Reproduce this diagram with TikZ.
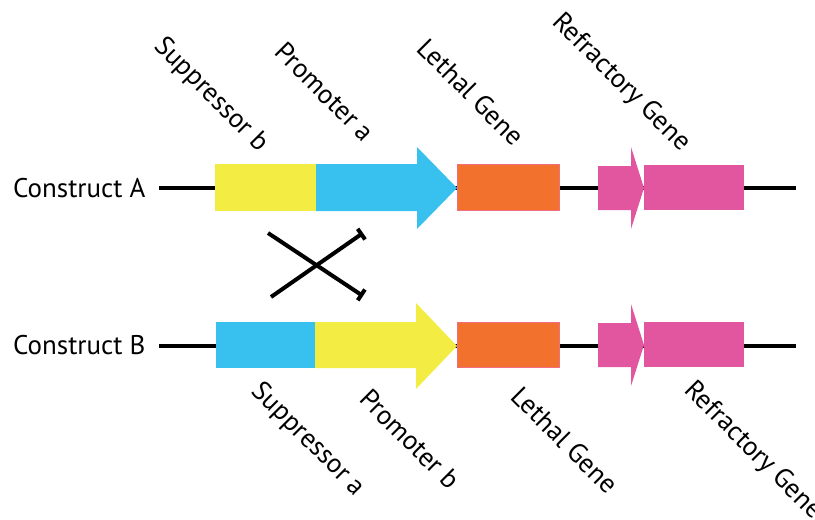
\documentclass[tikz,border=0pt]{standalone}
\usepackage{fontspec}
\setmainfont{PT Sans}
\usetikzlibrary{arrows.meta}
\definecolor{gyellow}{RGB}{242,236,67}
\definecolor{gblue}{RGB}{56,193,238}
\definecolor{gorange}{RGB}{242,113,44}
\definecolor{gpink}{RGB}{226,86,160}
\definecolor{gborder}{RGB}{240,110,130}
\begin{document}
\begin{tikzpicture}[x=1pt,y=-1pt,
  dna/.style={line width=4pt, black},
  lbl/.style={font=\fontsize{27}{32}\selectfont, inner sep=0pt},
  rlbl/.style={lbl, rotate=-45, anchor=center},
  crossline/.style={line width=4pt, -{Bar[width=13pt,length=4pt]}},
  orangebox/.style={fill=gorange, draw=gborder, line width=1pt},
]
\useasboundingbox (0,0) rectangle (815,520);

% ---------- Construct A ----------
\node[lbl, anchor=base west] (labA) at (13,197) {Construct A};
\coordinate (aL) at (159,188);
\coordinate (aR) at (796,188);
\draw[dna] (aL) -- (aR);
% suppressor b (yellow)
\fill[gyellow] (215,164) rectangle (316,211);
% promoter a (blue arrow)
\fill[gblue] (316,164) -- (417,164) -- (417,147) -- (457,188) -- (417,229) -- (417,211) -- (316,211) -- cycle;
% lethal gene
\filldraw[orangebox] (457.5,164.5) rectangle (559.5,210.5);
% refractory gene
\fill[gpink] (598,166) -- (631,166) -- (631,147) -- (644,188) -- (631,229) -- (631,210) -- (598,210) -- cycle;
\fill[gpink] (644,165) rectangle (744,210);

% ---------- Construct B ----------
\node[lbl, anchor=base west] (labB) at (13,354) {Construct B};
\coordinate (bL) at (159,346);
\coordinate (bR) at (796,346);
\draw[dna] (bL) -- (bR);
% suppressor a (blue)
\fill[gblue] (216,322) rectangle (315,368);
% promoter b (yellow arrow)
\fill[gyellow] (315,322) -- (416,322) -- (416,303) -- (457,346) -- (416,389) -- (416,368) -- (315,368) -- cycle;
% lethal gene
\filldraw[orangebox] (457.5,322.5) rectangle (559.5,367.5);
% refractory gene
\fill[gpink] (598,323) -- (631,323) -- (631,304) -- (644,345) -- (631,386) -- (631,367) -- (598,367) -- cycle;
\fill[gpink] (644,322) rectangle (744,367);

% ---------- crossover ----------
\coordinate (c1s) at (268,233);
\coordinate (c1e) at (363,296);
\coordinate (c2s) at (271,297);
\coordinate (c2e) at (363,233);
\draw[crossline] (c1s) -- (c1e);
\draw[crossline] (c2s) -- (c2e);

% ---------- labels top ----------
\node[rlbl] (tSb) at (211,95) {Suppressor b};
\node[rlbl] (tPa) at (325,92) {Promoter a};
\node[rlbl] (tLg) at (471,92) {Lethal Gene};
\node[rlbl] (tRg) at (621,83) {Refractory Gene};

% ---------- labels bottom ----------
\node[rlbl] (bSa) at (308,440) {Suppressor a};
\node[rlbl] (bPb) at (410,439) {Promoter b};
\node[rlbl] (bLg) at (565,440) {Lethal Gene};
\node[rlbl] (bRg) at (753,451) {Refractory Gene};
\end{tikzpicture}
\end{document}
